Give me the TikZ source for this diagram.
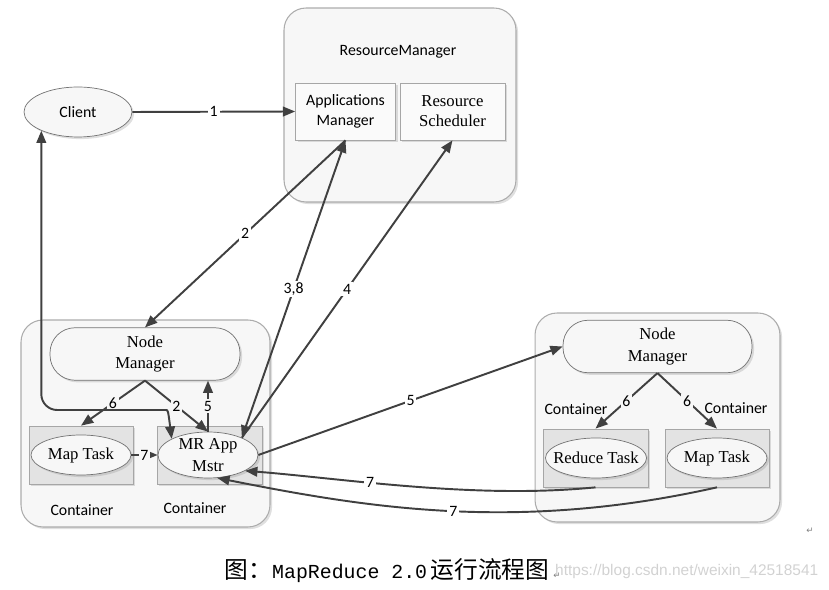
\documentclass[tikz,border=0pt]{standalone}
\usepackage{fontspec}
\setmainfont{Liberation Serif}
\setsansfont{Carlito}
\setmonofont{Liberation Mono}
\newfontfamily\cjk{Noto Sans CJK SC}
\newfontfamily\wmfont{Liberation Sans}
\newfontfamily\symfont{DejaVu Sans}
\usetikzlibrary{arrows.meta,shapes.geometric,shadows}
\tikzset{
  >={Triangle[length=7pt,width=5.5pt]},
  shade/.style={drop shadow={opacity=.25,shadow xshift=1.2pt,shadow yshift=-1.2pt}},
  frame/.style={draw=gray!65, fill=gray!6, rounded corners=0.44cm, line width=.6pt, shade},
  cont/.style={draw=gray!70, fill=gray!22, minimum width=2.1cm, minimum height=1.16cm, shade},
  task/.style={ellipse, draw=black!55, fill=gray!6, minimum width=2cm, minimum height=0.8cm,
    inner xsep=-4pt, inner ysep=-2pt, align=center, font=\fontsize{9.5}{13}\selectfont, shade},
  nm/.style={draw=black!55, fill=gray!6, rounded corners=0.5cm, minimum width=3.8cm,
    minimum height=1.05cm, align=center, font=\fontsize{9.5}{12}\selectfont, shade},
  rmbox/.style={draw=gray!70, fill=gray!4, minimum width=2cm, minimum height=1.14cm, align=center, shade},
  ctext/.style={font=\sffamily\fontsize{9}{10}\selectfont},
  lbl/.style={fill=white, inner sep=1pt, font=\sffamily\fontsize{9}{10}\selectfont},
  ilbl/.style={lbl, fill=gray!6},
  arr/.style={->, line width=1.1pt, draw=black!75},
}
\begin{document}
\begin{tikzpicture}[x=0.02cm, y=-0.02cm]
\useasboundingbox (0,0) rectangle (829,590);
% resource manager
\node[frame, minimum width=4.64cm, minimum height=3.88cm] (rm) at (400,105) {};
\node[ctext] (rmname) at (398,52) {ResourceManager};
\node[rmbox, font=\sffamily\fontsize{9}{11.3}\selectfont] (am) at (345.5,111.5) {Applications\\Manager};
\node[rmbox, minimum width=2.1cm, font=\fontsize{9.5}{11.3}\selectfont] (rs) at (452.5,111.5) {Resource\\Scheduler};
\node[task, minimum width=2.16cm, minimum height=1cm, font=\sffamily\fontsize{9}{10}\selectfont] (client) at (78,112) {Client};
% left node
\node[frame, minimum width=4.98cm, minimum height=4.14cm] (nodeL) at (145.5,423.5) {};
\node[nm] (nmL) at (145,354) {Node\\Manager};
\node[cont, minimum width=2.08cm] (mapboxL) at (81,455) {};
\node[cont] (mrbox) at (209.5,455) {};
\node[task] (mapL) at (81,455) {Map Task};
\node[task, minimum height=0.92cm] (mr) at (208,455) {MR App\\Mstr};
\node[ctext] (contA) at (82,510) {Container};
\node[ctext] (contB) at (195,508) {Container};
% right node
\node[frame, minimum width=4.9cm, minimum height=4.18cm] (nodeR) at (657.5,417.5) {};
\node[nm, minimum width=3.78cm] (nmR) at (657.5,346.5) {Node\\Manager};
\node[cont] (redbox) at (595.5,458) {};
\node[cont, minimum width=2.08cm] (mapboxR) at (717,458) {};
\node[task] (red) at (596,458) {Reduce Task};
\node[task] (mapR) at (717,458) {Map Task};
\node[ctext] (contC) at (576,409) {Container};
\node[ctext] (contD) at (736,408) {Container};

\draw[arr] (client.east) -- (am.west) node[lbl, midway] {1};
\draw[arr] (am.south) -- (nmL.north) node[lbl, midway] {2};
\draw[arr, <->] (mr.27) -- (am.south) node[lbl, midway] {3,8};
\draw[arr] (mr.27) -- (rs.south) node[lbl, midway] {4};
\draw[arr] (mr.north) -- (mr.north |- nmL.south) node[ilbl, midway] {5};
\draw[arr] (nmL.south) -- (mapboxL.north) node[ilbl, midway] {6};
\draw[arr] (nmL.south) -- (mr.north) node[ilbl, midway] {2};
\draw[arr] (mapL.east) -- (mr.west) node[ilbl, midway] {7};
\draw[arr, <->, rounded corners=9pt] (client.207) |- (150,410) .. controls (168,410) .. (mr.156);
\draw[arr] (mr.east) -- (nmR.west) node[lbl, midway] {5};
\draw[arr] (nmR.south) -- (redbox.north) node[ilbl, midway] {6};
\draw[arr] (nmR.south) -- (mapboxR.north) node[ilbl, midway] {6};
\draw[arr] (redbox.south) .. controls +(-120,12) and +(100,8) .. (mr.-23) node[lbl, pos=.62] {7};
\draw[arr] (mapboxR.south) .. controls +(-200,45) and +(150,30) .. (mr.-68) node[lbl, pos=.49] {7};

% caption
\node[anchor=west, font=\wmfont\fontsize{8.8}{10}\selectfont, text=gray!35] (wm) at (549,572) {https://blog.csdn.net/weixin\_42518541};
\node[font=\cjk\fontsize{13.5}{15}\selectfont] (cap) at (387,571) {图：{\ttfamily\fontsize{11.3}{13}\selectfont MapReduce 2.0}\hspace{2pt}运行流程图};
\node[font=\symfont\fontsize{5}{6}\selectfont, text=gray] (ret1) at (557,576) {↵};
\node[font=\symfont\fontsize{5}{6}\selectfont, text=gray] (ret2) at (810,531) {↵};
\end{tikzpicture}
\end{document}
